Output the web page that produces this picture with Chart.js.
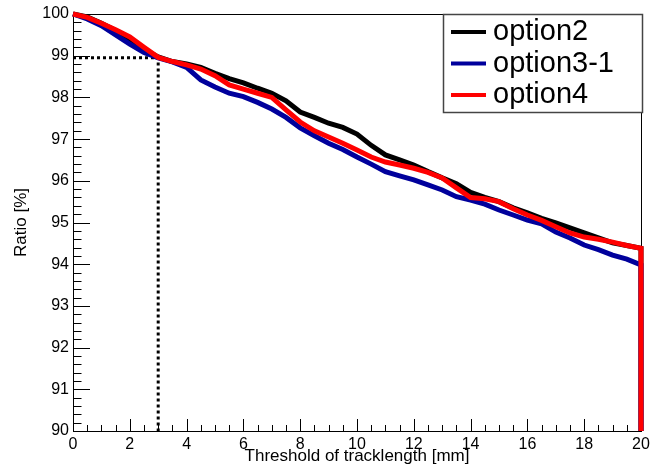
<!DOCTYPE html>
<html>
<head>
<meta charset="utf-8">
<script src="https://cdn.jsdelivr.net/npm/chart.js@4/dist/chart.umd.min.js"></script>
<style>
html,body{margin:0;padding:0;background:#ffffff;}
#wrap{width:667px;height:470px;position:relative;}
</style>
</head>
<body>
<div id="wrap"><canvas id="c" width="667" height="470"></canvas></div>
<script>
// ---- data ----
const thresholds = [0,0.5,1,1.5,2,2.5,3,3.5,4,4.5,5,5.5,6,6.5,7,7.5,8,8.5,9,9.5,10,10.5,11,11.5,12,12.5,13,13.5,14,14.5,15,15.5,16,16.5,17,17.5,18,18.5,19,19.5,20];
const option2 = [100,99.93,99.78,99.6,99.35,99.15,98.97,98.86,98.8,98.72,98.58,98.45,98.35,98.22,98.1,97.92,97.65,97.52,97.38,97.28,97.12,96.85,96.62,96.5,96.38,96.22,96.07,95.93,95.72,95.6,95.5,95.35,95.23,95.1,94.99,94.87,94.75,94.63,94.51,94.45,94.38];
const option3_1 = [100,99.88,99.72,99.5,99.28,99.08,98.95,98.85,98.72,98.42,98.25,98.1,98.02,97.88,97.72,97.52,97.27,97.08,96.9,96.75,96.57,96.4,96.22,96.12,96.02,95.9,95.78,95.62,95.54,95.44,95.3,95.18,95.06,94.97,94.77,94.63,94.46,94.35,94.22,94.12,93.98];
const option4 = [100,99.92,99.78,99.62,99.45,99.2,98.96,98.86,98.78,98.68,98.52,98.3,98.2,98.1,98.0,97.7,97.41,97.2,97.05,96.9,96.74,96.57,96.45,96.38,96.3,96.2,96.07,95.83,95.6,95.57,95.5,95.33,95.18,95.05,94.9,94.75,94.65,94.6,94.53,94.45,94.38];
const endDropX = 20;      // curves fall to the axis floor at the last threshold
const endDropY = 90;
const seriesNames = ["option2", "option3-1", "option4"];
const markerX = 3;        // dotted guide: threshold 3 mm
const markerY = 98.95;    // dotted guide: ratio at 3 mm
const xTickValues = [0,2,4,6,8,10,12,14,16,18,20];
const yTickValues = [90,91,92,93,94,95,96,97,98,99,100];

const FONT = "'Liberation Sans', Arial, Helvetica, sans-serif";

function series(vals) {
  const pts = thresholds.map((x, i) => ({x: x, y: vals[i]}));
  pts.push({x: endDropX, y: endDropY});
  return pts;
}

const lineStyle = {
  borderWidth: 5,
  pointRadius: 0,
  pointHoverRadius: 0,
  tension: 0,
  fill: false,
  clip: 4,
  borderJoinStyle: 'miter',
  borderCapStyle: 'butt'
};

const datasets = [
  Object.assign({label: seriesNames[0], data: series(option2), borderColor: '#000000', backgroundColor: '#000000', order: 2}, lineStyle),
  Object.assign({label: seriesNames[1], data: series(option3_1), borderColor: '#00009c', backgroundColor: '#00009c', order: 1}, lineStyle),
  Object.assign({label: seriesNames[2], data: series(option4), borderColor: '#ff0000', backgroundColor: '#ff0000', order: 0}, lineStyle),
  {
    label: '__guide',
    data: [{x: thresholds[0], y: markerY}, {x: markerX, y: markerY}, {x: markerX, y: yTickValues[0]}],
    borderColor: '#000000', borderWidth: 3, borderDash: [3, 3], borderCapStyle: 'butt',
    pointRadius: 0, pointHoverRadius: 0, tension: 0, fill: false, order: 3, clip: 2
  }
];

// Axis frame and inside tick marks (ROOT style)
const frameTicks = {
  id: 'frameTicks',
  beforeDatasetsDraw(chart) {
    const {ctx, chartArea: a, scales} = chart;
    const xs = scales.x, ys = scales.y;
    ctx.save();
    ctx.strokeStyle = '#000';
    ctx.lineWidth = 1;
    ctx.beginPath();
    const yMin = ys.min, yMax = ys.max;
    for (let k = 0; k <= Math.round((yMax - yMin) * 5); k++) {
      const v = yMin + k / 5;
      const py = Math.round(ys.getPixelForValue(v)) + 0.5;
      const major = k % 5 === 0;
      const len = major ? 17 : 8.5;
      ctx.moveTo(a.left, py);
      ctx.lineTo(a.left + len, py);
    }
    const xMin = xs.min, xMax = xs.max;
    for (let k = 0; k <= Math.round((xMax - xMin) * 2); k++) {
      const v = xMin + k / 2;
      const px = Math.round(xs.getPixelForValue(v)) + 0.5;
      const major = k % 4 === 0;
      const len = major ? 12 : 6;
      ctx.moveTo(px, a.bottom);
      ctx.lineTo(px, a.bottom - len);
    }
    ctx.stroke();
    ctx.strokeRect(Math.round(a.left) + 0.5, Math.round(a.top) + 0.5, Math.round(a.right - a.left), Math.round(a.bottom - a.top));
    ctx.restore();
  }
};

// Legend box in the upper right corner
const boxLegend = {
  id: 'boxLegend',
  afterDatasetsDraw(chart) {
    const {ctx, chartArea: a} = chart;
    const bx = 443, by = Math.round(a.top) + 0.5, bw = Math.round(a.right) - 443 + 1, bh = 98;
    ctx.save();
    ctx.fillStyle = '#ffffff';
    ctx.fillRect(bx, by, bw, bh);
    ctx.strokeStyle = '#444';
    ctx.lineWidth = 1.5;
    ctx.strokeRect(bx + 0.5, by, bw, bh);
    const rows = [32, 63.5, 95];
    const items = chart.data.datasets.filter(d => !d.label.startsWith('__'));
    ctx.font = '29px ' + FONT;
    ctx.textBaseline = 'alphabetic';
    ctx.textAlign = 'left';
    items.forEach((d, i) => {
      const ry = rows[i];
      ctx.strokeStyle = d.borderColor;
      ctx.lineWidth = 4;
      ctx.beginPath();
      ctx.moveTo(451, ry);
      ctx.lineTo(486, ry);
      ctx.stroke();
      ctx.fillStyle = '#000';
      ctx.fillText(d.label, 493, ry + 8);
    });
    ctx.restore();
  }
};

new Chart(document.getElementById('c'), {
  type: 'line',
  data: {datasets: datasets},
  options: {
    responsive: false,
    animation: false,
    devicePixelRatio: 1,
    layout: {padding: {top: 14, right: 26, left: 0, bottom: 0}},
    plugins: {legend: {display: false}, tooltip: {enabled: false}},
    events: [],
    scales: {
      x: {
        type: 'linear',
        min: xTickValues[0],
        max: xTickValues[xTickValues.length - 1],
        afterBuildTicks(s) { s.ticks = xTickValues.map(v => ({value: v})); },
        afterFit(s) { s.height = 39; },
        grid: {display: false, drawTicks: false},
        border: {display: false},
        ticks: {color: '#000', font: {family: FONT, size: 16, lineHeight: 1}, padding: 6, maxRotation: 0, autoSkip: false},
        title: {display: true, text: 'Threshold of tracklength [mm]', color: '#000', font: {family: FONT, size: 17, lineHeight: 1}, padding: {top: 0, bottom: 5}}
      },
      y: {
        type: 'linear',
        min: yTickValues[0],
        max: yTickValues[yTickValues.length - 1],
        afterBuildTicks(s) { s.ticks = yTickValues.map(v => ({value: v})); },
        afterFit(s) { s.width = 73; },
        grid: {display: false, drawTicks: false},
        border: {display: false},
        ticks: {color: '#000', font: {family: FONT, size: 16}, padding: 4, autoSkip: false},
        title: {display: true, text: 'Ratio [%]', color: '#000', font: {family: FONT, size: 17}, padding: {top: 11, bottom: 0}}
      }
    }
  },
  plugins: [frameTicks, boxLegend]
});
</script>
</body>
</html>
